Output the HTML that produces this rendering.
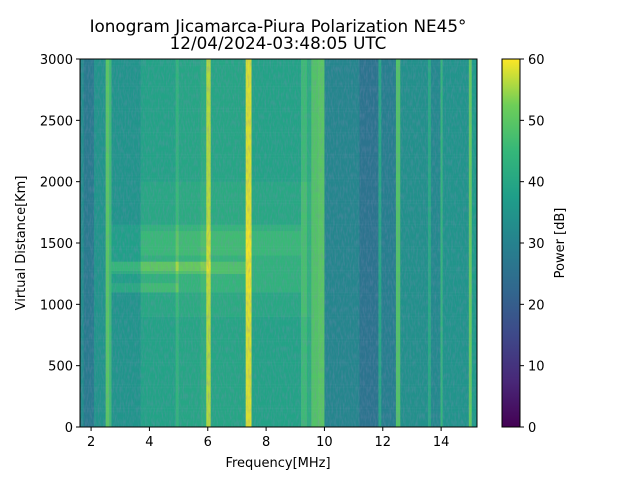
<!DOCTYPE html>
<html><head><meta charset="utf-8"><style>
body{margin:0;background:#fff}
svg{font-family:"DejaVu Sans","Liberation Sans",sans-serif}
</style></head><body>
<svg id="chart" width="640" height="480" xmlns="http://www.w3.org/2000/svg">
<text x="278" y="32" font-size="16.8" text-anchor="middle">Ionogram Jicamarca-Piura Polarization NE45°</text>
<text x="278" y="49" font-size="16.8" text-anchor="middle">12/04/2024-03:48:05 UTC</text>
<defs>
<linearGradient id="vg" x1="0" y1="1" x2="0" y2="0">
<stop offset="0" stop-color="#440154"/><stop offset="0.125" stop-color="#482878"/><stop offset="0.25" stop-color="#3e4989"/><stop offset="0.375" stop-color="#31688e"/><stop offset="0.5" stop-color="#26828e"/><stop offset="0.625" stop-color="#1f9e89"/><stop offset="0.75" stop-color="#35b779"/><stop offset="0.875" stop-color="#6ece58"/><stop offset="1" stop-color="#fde725"/></linearGradient>
<filter id="tex" x="0" y="0" width="100%" height="100%">
<feTurbulence type="fractalNoise" baseFrequency="0.6 0.15" numOctaves="2" seed="3"/>
<feColorMatrix type="matrix" values="0 0 0 0 0.2  0 0 0 0 0.25  0 0 0 0 0.45  0 0 0 1.4 -0.55"/>
</filter>
</defs>
<g id="heat"></g>
<rect x="80" y="59" width="397" height="368" filter="url(#tex)" opacity="0.5"/>
<rect x="80" y="59" width="397" height="368" fill="none" stroke="#000" stroke-width="1"/>
<g id="xticks"></g>
<g id="yticks"></g>
<text x="278" y="467" font-size="13" text-anchor="middle">Frequency[MHz]</text>
<text transform="translate(25,243) rotate(-90)" font-size="13" text-anchor="middle">Virtual Distance[Km]</text>
<rect x="502" y="59" width="18" height="368" fill="url(#vg)" stroke="#000" stroke-width="1"/>
<g id="cticks"></g>
<text transform="translate(564,243) rotate(-90)" font-size="13" text-anchor="middle">Power [dB]</text>
</svg>
<script>
const bandStart=[1.6,1.75,2.1,2.5,2.62,2.7,3.7,4.9,5.0,5.1,5.75,5.95,6.1,7.3,7.5,9.2,9.4,9.55,9.8,10.0,11.2,11.85,11.95,12.45,12.6,13.55,13.65,13.98,14.05,14.95,15.05];
const bandEnd=  [1.75,2.1,2.5,2.62,2.7,3.7,4.9,5.0,5.1,5.75,5.95,6.1,7.3,7.5,9.2,9.4,9.55,9.8,10.0,11.2,11.85,11.95,12.45,12.6,13.55,13.65,13.98,14.05,14.95,15.05,15.25];
const bandPower=[33,28,35,50,46,35,39,44,40,40,42,56,40,58,39,46,42,49,50,31,26,40,29,49,34,41,32,45,35,51,37];
const spotFreqLo=[2.8,4.0,2.8,2.8,3.0,4.5];
const spotFreqHi=[8.0,9.5,6.5,6.0,5.0,8.5];
const spotDistLo=[1100,900,1250,1280,1120,1400];
const spotDistHi=[1650,2000,1340,1330,1170,1600];
const spotBoost=[3,1.5,4,3,3,2];
const xTicks=[2,4,6,8,10,12,14];
const yTicks=[0,500,1000,1500,2000,2500,3000];
const cTicks=[0,10,20,30,40,50,60];
const X0=80,X1=477,Y0=427,Y1=59,F0=1.62,F1=15.23,D0=0,D1=3000;
const xs=f=>X0+(f-F0)/(F1-F0)*(X1-X0);
const ys=d=>Y0-(d-D0)/(D1-D0)*(Y0-Y1);
const stops=[[68,1,84],[72,40,120],[62,73,137],[49,104,142],[38,130,142],[31,158,137],[53,183,121],[110,206,88],[253,231,37]];
function vir(v){let t=Math.max(0,Math.min(1,v/60))*8;let i=Math.min(7,Math.floor(t)),u=t-i;const a=stops[i],b=stops[i+1];
return `rgb(${a.map((c,k)=>Math.round(c+(b[k]-c)*u)).join(',')})`;}
const NS="http://www.w3.org/2000/svg";
const heat=document.getElementById('heat');
const rowStep=25;
for(let b=0;b<bandStart.length;b++){
 for(let d=0;d<3000;d+=rowStep){
  let v=bandPower[b];
  for(let s=0;s<spotBoost.length;s++){
   if(bandEnd[b]>spotFreqLo[s]&&bandStart[b]<spotFreqHi[s]&&d+rowStep>spotDistLo[s]&&d<spotDistHi[s])v+=spotBoost[s]*(bandPower[b]>50?0.2:1);
  }
  const r=document.createElementNS(NS,'rect');
  const x=Math.max(X0,xs(bandStart[b])),x2=Math.min(X1,xs(bandEnd[b]));
  r.setAttribute('x',x);r.setAttribute('width',x2-x+0.3);
  r.setAttribute('y',ys(d+rowStep));r.setAttribute('height',ys(d)-ys(d+rowStep)+0.3);
  r.setAttribute('fill',vir(v));
  
  
  heat.appendChild(r);
 }
}
function tick(g,x1,y1,x2,y2,tx,ty,label,anchor){
 const l=document.createElementNS(NS,'line');
 l.setAttribute('x1',x1);l.setAttribute('y1',y1);l.setAttribute('x2',x2);l.setAttribute('y2',y2);l.setAttribute('stroke','#000');
 
 
 g.appendChild(l);
 const t=document.createElementNS(NS,'text');
 t.setAttribute('x',tx);t.setAttribute('y',ty);t.setAttribute('font-size','13');t.setAttribute('text-anchor',anchor);
 t.textContent=label;
 
 
 g.appendChild(t);
}
const gx=document.getElementById('xticks');
xTicks.forEach(f=>tick(gx,xs(f),427,xs(f),431,xs(f),446,f,'middle'));
const gy=document.getElementById('yticks');
yTicks.forEach(d=>tick(gy,76,ys(d),80,ys(d),73,ys(d)+5,d,'end'));
const gc=document.getElementById('cticks');
cTicks.forEach(c=>{const y=427-c/60*368;tick(gc,520,y,524,y,528,y+5,c,'start');});
</script>
</body></html>
